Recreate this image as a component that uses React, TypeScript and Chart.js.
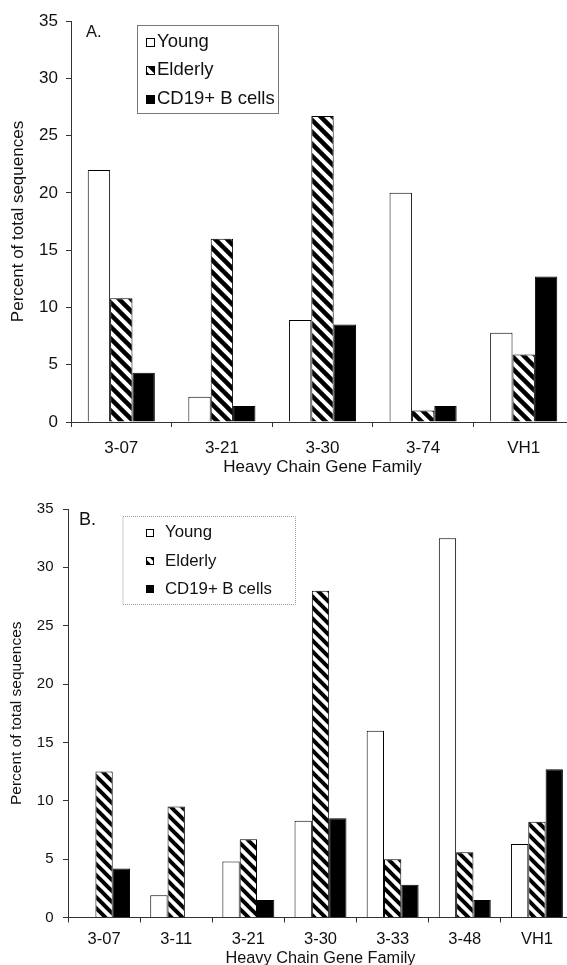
import React, { useEffect, useRef } from 'react';
import { Chart, registerables } from 'chart.js';
Chart.register(...registerables);

const seriesLabels = ['Young', 'Elderly', 'CD19+ B cells'];

const categoriesA = ['3-07', '3-21', '3-30', '3-74', 'VH1'];
const youngA = [22.0, 2.2, 8.9, 20.0, 7.8];
const elderlyA = [10.8, 16.0, 26.7, 1.0, 5.9];
const cd19A = [4.3, 1.4, 8.5, 1.4, 12.7];

const categoriesB = ['3-07', '3-11', '3-21', '3-30', '3-33', '3-48', 'VH1'];
const youngB = [0, 1.9, 4.8, 8.3, 16.0, 32.5, 6.3];
const elderlyB = [12.5, 9.5, 6.7, 28.0, 5.0, 5.6, 8.2];
const cd19B = [4.2, 0, 1.5, 8.5, 2.8, 1.5, 12.7];

const yMin = 0;
const yMax = 35;
const yStep = 5;

const xTitle = 'Heavy Chain Gene Family';
const yTitle = 'Percent of total sequences';

const FAMILY = "'Liberation Sans', Arial, Helvetica, sans-serif";
const INK = '#111';

function makeHatch(period: number, lw: number): CanvasPattern {
  const c = document.createElement('canvas');
  c.width = period;
  c.height = period;
  const g = c.getContext('2d')!;
  g.fillStyle = '#fff';
  g.fillRect(0, 0, period, period);
  g.strokeStyle = '#000';
  g.lineWidth = lw;
  for (const off of [-period, 0, period]) {
    g.beginPath();
    g.moveTo(off - 2, -2);
    g.lineTo(off + period + 2, period + 2);
    g.stroke();
  }
  return g.createPattern(c, 'repeat')!;
}

type Panel = {
  categories: string[];
  young: number[];
  elderly: number[];
  cd19: number[];
  width: number;
  height: number;
  pad: { left: number; top: number; right: number; bottom: number };
  yAxisWidth: number;
  xAxisHeight: number;
  yTitleFont: number;
  yTitlePad: number;
  yTickFont: number;
  yTickPad: number;
  xTickFont: number;
  xTickPad: number;
  xTitleFont: number;
  xTitlePadBottom: number;
  catPct: number;
  hatchPeriod: number;
  hatchWidth: number;
  legend: {
    x: number; y: number; w: number; h: number;
    items: number[]; swX: number; swS: number; textX: number; font: number;
    border: string; dash: number[];
  };
  label: { text: string; x: number; y: number; font: number };
};

function makeOverlay(p: Panel) {
  return {
    id: 'overlay' + p.label.text,
    afterDraw(chart: any) {
      const ctx: CanvasRenderingContext2D = chart.ctx;
      const L = p.legend;
      ctx.save();
      ctx.fillStyle = '#fff';
      ctx.fillRect(L.x, L.y, L.w, L.h);
      ctx.strokeStyle = L.border;
      ctx.lineWidth = 1;
      ctx.setLineDash(L.dash);
      ctx.strokeRect(L.x + 0.5, L.y + 0.5, L.w, L.h);
      ctx.setLineDash([]);
      chart.data.datasets.forEach((ds: any, i: number) => {
        const cy = L.items[i];
        const top = Math.round(cy - L.swS / 2);
        ctx.fillStyle = ds.backgroundColor;
        ctx.fillRect(L.swX, top, L.swS, L.swS);
        ctx.strokeStyle = '#000';
        ctx.strokeRect(L.swX + 0.5, top + 0.5, L.swS - 1, L.swS - 1);
        ctx.fillStyle = INK;
        ctx.font = `${L.font}px ${FAMILY}`;
        ctx.textBaseline = 'middle';
        ctx.textAlign = 'left';
        ctx.fillText(ds.label, L.textX, cy);
      });
      ctx.font = `${p.label.font}px ${FAMILY}`;
      ctx.fillStyle = INK;
      ctx.textBaseline = 'middle';
      ctx.fillText(p.label.text, p.label.x, p.label.y);
      ctx.restore();
    },
  };
}

function buildChart(canvas: HTMLCanvasElement, p: Panel) {
  const hatch = makeHatch(p.hatchPeriod, p.hatchWidth);
  return new Chart(canvas, {
    type: 'bar',
    data: {
      labels: p.categories,
      datasets: [
        { label: seriesLabels[0], data: p.young, backgroundColor: '#fff', borderColor: '#000', borderWidth: 1 },
        { label: seriesLabels[1], data: p.elderly, backgroundColor: hatch as any, borderColor: '#000', borderWidth: 1 },
        { label: seriesLabels[2], data: p.cd19, backgroundColor: '#000', borderColor: '#000', borderWidth: 1 },
      ],
    },
    options: {
      responsive: false,
      animation: false,
      devicePixelRatio: 1,
      layout: { padding: p.pad },
      datasets: { bar: { categoryPercentage: p.catPct, barPercentage: 1 } },
      plugins: { legend: { display: false }, tooltip: { enabled: false } },
      scales: {
        x: {
          grid: { display: true, drawOnChartArea: false, drawTicks: true, tickLength: 5, color: '#333', offset: true },
          border: { display: true, color: '#333', width: 1 },
          ticks: { color: INK, font: { family: FAMILY, size: p.xTickFont }, padding: p.xTickPad, maxRotation: 0 },
          title: { display: true, text: xTitle, color: INK, font: { family: FAMILY, size: p.xTitleFont }, padding: { top: 0, bottom: p.xTitlePadBottom } },
          afterFit: (s: any) => { s.height = p.xAxisHeight; },
        },
        y: {
          min: yMin,
          max: yMax,
          grid: { display: true, drawOnChartArea: false, drawTicks: true, tickLength: 5, color: '#333' },
          border: { display: true, color: '#333', width: 1 },
          ticks: { stepSize: yStep, color: INK, font: { family: FAMILY, size: p.yTickFont }, padding: p.yTickPad },
          title: { display: true, text: yTitle, color: INK, font: { family: FAMILY, size: p.yTitleFont }, padding: { top: p.yTitlePad, bottom: 0 } },
          afterFit: (s: any) => { s.width = p.yAxisWidth; },
        },
      },
    },
    plugins: [makeOverlay(p)],
  } as any);
}

const panelA: Panel = {
  categories: categoriesA, young: youngA, elderly: elderlyA, cd19: cd19A,
  width: 590, height: 482,
  pad: { left: 0, top: 21, right: 16, bottom: 0 },
  yAxisWidth: 71, xAxisHeight: 60,
  yTitleFont: 17, yTitlePad: 8,
  yTickFont: 17, yTickPad: 8,
  xTickFont: 17, xTickPad: 11,
  xTitleFont: 17, xTitlePadBottom: 4,
  catPct: 0.667,
  hatchPeriod: 12, hatchWidth: 4.5,
  legend: { x: 137, y: 25, w: 141, h: 88, items: [42, 70, 99], swX: 146, swS: 9, textX: 157, font: 18.5, border: '#777', dash: [] },
  label: { text: 'A.', x: 86, y: 32, font: 16.5 },
};

const panelB: Panel = {
  categories: categoriesB, young: youngB, elderly: elderlyB, cd19: cd19B,
  width: 590, height: 500,
  pad: { left: 0, top: 27, right: 17, bottom: 0 },
  yAxisWidth: 68, xAxisHeight: 64.5,
  yTitleFont: 15.5, yTitlePad: 7.5,
  yTickFont: 15, yTickPad: 9.5,
  xTickFont: 16.5, xTickPad: 7,
  xTitleFont: 16.3, xTitlePadBottom: 14,
  catPct: 0.72,
  hatchPeriod: 11, hatchWidth: 4,
  legend: { x: 122.5, y: 34, w: 172.5, h: 88, items: [50.7, 79, 107.3], swX: 146, swS: 8, textX: 165, font: 16.8, border: '#999', dash: [1, 1] },
  label: { text: 'B.', x: 79, y: 38, font: 18 },
};

export default function App() {
  const refA = useRef<HTMLCanvasElement>(null);
  const refB = useRef<HTMLCanvasElement>(null);
  useEffect(() => {
    const a = buildChart(refA.current!, panelA);
    const b = buildChart(refB.current!, panelB);
    return () => { a.destroy(); b.destroy(); };
  }, []);
  return (
    <div style={{ position: 'fixed', left: 0, top: 0, width: 567, height: 965, overflow: 'hidden', background: '#fff' }}>
      <canvas ref={refA} width={panelA.width} height={panelA.height} style={{ position: 'absolute', left: 0, top: 0, display: 'block' }} />
      <canvas ref={refB} width={panelB.width} height={panelB.height} style={{ position: 'absolute', left: 0, top: 482, display: 'block' }} />
    </div>
  );
}
